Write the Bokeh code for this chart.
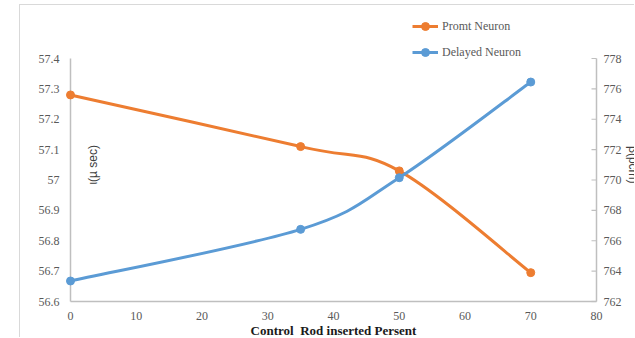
import numpy as np
from bokeh.plotting import figure
from bokeh.models import Range1d, Legend, LegendItem, Label, ColumnDataSource
from bokeh.embed import file_html
from bokeh.resources import INLINE

# Control rod insertion (%) and the two lifetimes
rod_pct = [0, 35, 50, 70]
prompt_tau = [57.28, 57.11, 57.03, 56.695]      # left axis, micro-seconds
delayed_beta = [763.35, 766.75, 770.15, 776.45]  # right axis, pcm

x_ticks = [0, 10, 20, 30, 40, 50, 60, 70, 80]
left_ticks = [56.6, 56.7, 56.8, 56.9, 57.0, 57.1, 57.2, 57.3, 57.4]
left_tick_text = ["56.6", "56.7", "56.8", "56.9", "57", "57.1", "57.2", "57.3", "57.4"]
right_ticks = [762, 764, 766, 768, 770, 772, 774, 776, 778]

ORANGE = "#ED7D31"
BLUE = "#5B9BD5"
AXIS = "#bfbfbf"
TXT = "#595959"
SERIF = "Times"
SANS = "Arial"

# Canvas layout (pixels): the chart box is 615 x 333; the axes box inside it
W, H = 615, 333
AX_L, AX_R, AX_T, AX_B = 50, 576, 53, 296

x0, x1 = x_ticks[0], x_ticks[-1]
l0, l1 = left_ticks[0], left_ticks[-1]
r0, r1 = right_ticks[0], right_ticks[-1]
sx = (x1 - x0) / (AX_R - AX_L)          # data units per pixel
sl = (l1 - l0) / (AX_B - AX_T)
sr = (r1 - r0) / (AX_B - AX_T)

p = figure(width=W, height=H, output_backend="svg", toolbar_location=None,
           x_range=Range1d(x0 - AX_L * sx, x1 + (W - AX_R) * sx),
           y_range=Range1d(l0 - (H - AX_B) * sl, l1 + AX_T * sl),
           min_border=0, margin=(4, 0, 0, 19),
           styles={"border-top": "1px solid #d9d9d9", "border-left": "1px solid #d9d9d9"})
p.outline_line_color = None
p.grid.visible = False
p.axis.visible = False
p.extra_y_ranges = {"beta": Range1d(r0 - (H - AX_B) * sr, r1 + AX_T * sr)}

# axis lines
p.segment(x0=[x0, x0], y0=[l0, l0], x1=[x1, x0], y1=[l0, l1],
          line_color=AXIS, line_width=1.5)
p.segment(x0=[x1], y0=[r0], x1=[x1], y1=[r1], line_color=AXIS, line_width=1.5,
          y_range_name="beta")
# short inward ticks on the right axis
p.segment(x0=[x1 - 5 * sx] * len(right_ticks), y0=right_ticks,
          x1=[x1] * len(right_ticks), y1=right_ticks,
          line_color=AXIS, line_width=1.2, y_range_name="beta")


def tick_label(text, x, y, dx, dy, align, **kw):
    p.add_layout(Label(x=x, y=y, text=text, x_offset=dx, y_offset=dy,
                       text_align=align, text_baseline="middle",
                       text_font=SERIF, text_font_size="12px", text_color=TXT, **kw))


for v in x_ticks:
    tick_label(str(v), v, l0, 0, -14, "center")
for v, t in zip(left_ticks, left_tick_text):
    tick_label(t, x0, v, -11, 0, "right")
for v in right_ticks:
    tick_label(str(v), x1, v, 7, 0, "left", y_range_name="beta")

p.add_layout(Label(x=(x0 + x1) / 2, y=l0, y_offset=-29,
                   text="Control\u00a0 Rod inserted Persent",
                   text_align="center", text_baseline="middle",
                   text_font=SERIF, text_font_size="13px", text_font_style="bold",
                   text_color="#1a1a1a"))


def smooth_segments(xs, ys):
    """Cubic Bezier pieces through the points (Catmull-Rom style tangents)."""
    xs = np.asarray(xs, float)
    ys = np.asarray(ys, float)
    n = len(xs)
    seg = dict(x0=[], y0=[], x1=[], y1=[], cx0=[], cy0=[], cx1=[], cy1=[])
    for i in range(n - 1):
        a = max(i - 1, 0)
        b = min(i + 2, n - 1)
        seg["x0"].append(xs[i]); seg["y0"].append(ys[i])
        seg["x1"].append(xs[i + 1]); seg["y1"].append(ys[i + 1])
        seg["cx0"].append(xs[i] + (xs[i + 1] - xs[a]) / 6)
        seg["cy0"].append(ys[i] + (ys[i + 1] - ys[a]) / 6)
        seg["cx1"].append(xs[i + 1] - (xs[b] - xs[i]) / 6)
        seg["cy1"].append(ys[i + 1] - (ys[b] - ys[i]) / 6)
    return ColumnDataSource(seg)


bz_p = p.bezier(x0="x0", y0="y0", x1="x1", y1="y1", cx0="cx0", cy0="cy0",
                cx1="cx1", cy1="cy1", source=smooth_segments(rod_pct, prompt_tau),
                line_color=ORANGE, line_width=3)
pt_p = p.scatter(rod_pct, prompt_tau, size=8, color=ORANGE)

bz_d = p.bezier(x0="x0", y0="y0", x1="x1", y1="y1", cx0="cx0", cy0="cy0",
                cx1="cx1", cy1="cy1", source=smooth_segments(rod_pct, delayed_beta),
                line_color=BLUE, line_width=3, y_range_name="beta")
pt_d = p.scatter(rod_pct, delayed_beta, size=8, color=BLUE, y_range_name="beta")

legend = Legend(items=[LegendItem(label="Promt Neuron", renderers=[bz_p, pt_p]),
                       LegendItem(label="Delayed Neuron", renderers=[bz_d, pt_d])],
                location=(392, 276), orientation="vertical",
                padding=0, margin=0, spacing=6,
                glyph_width=26, glyph_height=20, label_height=20, label_standoff=4,
                label_text_font="Liberation Serif", label_text_font_size="12px",
                label_text_color=TXT, border_line_alpha=0, background_fill_alpha=0)
p.add_layout(legend)

p.add_layout(Label(x=3.35, y=57.05, text="ι(µ sec)", angle=np.pi / 2,
                   text_align="center", text_baseline="middle",
                   text_font=SANS, text_font_size="12px", text_color="#404040"))
p.add_layout(Label(x=85.6, y=771.0, y_range_name="beta", text="β(pcm)", angle=-np.pi / 2,
                   text_align="center", text_baseline="middle",
                   text_font=SANS, text_font_size="12px", text_color="#404040"))

open("out.html", "w").write(file_html(p, INLINE))
